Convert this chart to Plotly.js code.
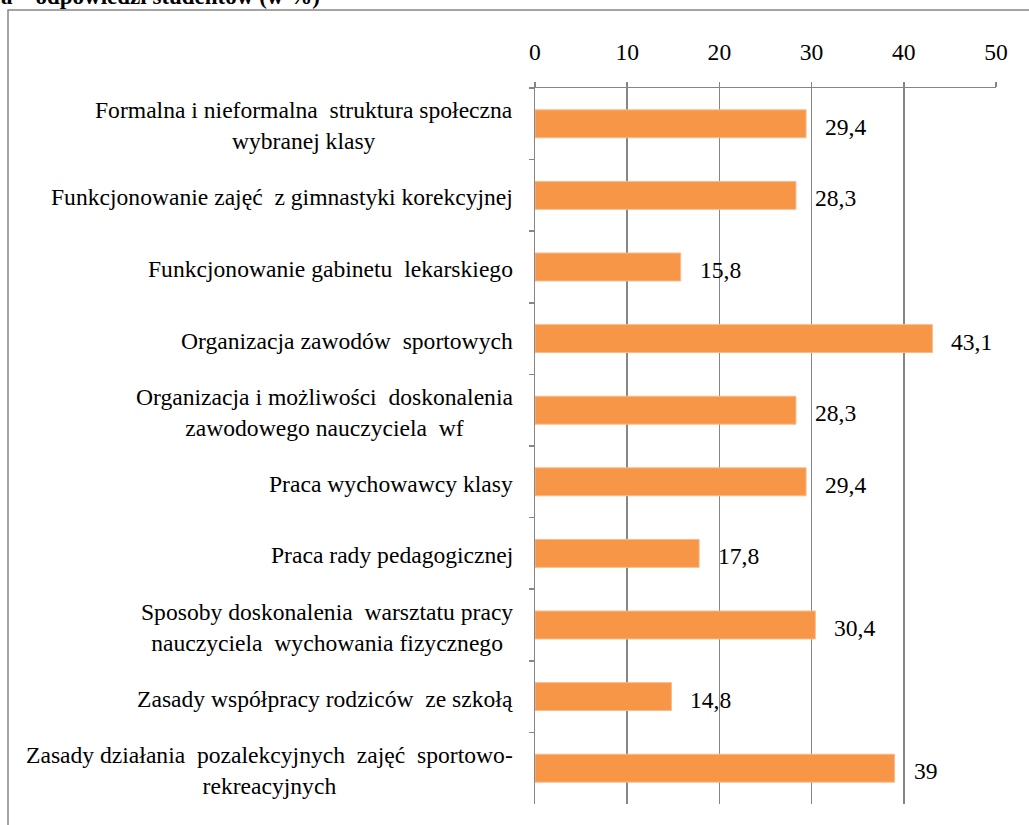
<!DOCTYPE html>
<html>
<head>
<meta charset="utf-8">
<script src="https://cdn.plot.ly/plotly-3.0.1.min.js"></script>
<style>
  html, body { margin: 0; padding: 0; background: #ffffff; }
  #chart { width: 1029px; height: 825px; }
</style>
</head>
<body>
<div id="chart"></div>
<script>
// ---- data ----
const categories = [
  "Formalna i nieformalna  struktura społeczna<br>wybranej klasy",
  "Funkcjonowanie zajęć  z gimnastyki korekcyjnej",
  "Funkcjonowanie gabinetu  lekarskiego",
  "Organizacja zawodów  sportowych",
  "Organizacja i możliwości  doskonalenia<br>zawodowego nauczyciela  wf",
  "Praca wychowawcy klasy",
  "Praca rady pedagogicznej",
  "Sposoby doskonalenia  warsztatu pracy<br>nauczyciela  wychowania fizycznego",
  "Zasady współpracy rodziców  ze szkołą",
  "Zasady działania  pozalekcyjnych  zajęć  sportowo-<br>rekreacyjnych"
];
const values = [29.4, 28.3, 15.8, 43.1, 28.3, 29.4, 17.8, 30.4, 14.8, 39];
const xTicks = [0, 10, 20, 30, 40, 50];
const titleText = "a – odpowiedzi studentów (w %)";

// ---- layout geometry ----
const W = 1029, H = 825;
const M = { l: 535, r: 33, t: 88, b: 21 };
const pw = W - M.l - M.r, ph = H - M.t - M.b;
const px2x = p => (p - M.l) / pw;
const py2y = p => (H - M.b - p) / ph;

const serif = "Liberation Serif";
const gray = "#868686";
const fs = 23.6;

const trace = {
  type: "bar",
  orientation: "h",
  x: values,
  y: categories,
  marker: { color: "#F79646", line: { color: "#FAB98A", width: 1 } },
  hoverinfo: "none"
};

const annotations = [];
categories.forEach((c, i) => {
  annotations.push({
    xref: "paper", yref: "y", x: 0, y: c,
    xanchor: "right", yanchor: "middle", xshift: -20, yshift: -2,
    align: "center", showarrow: false, text: c,
    font: { family: serif, size: fs, color: "#000" }
  });
  annotations.push({
    xref: "x", yref: "y", x: values[i], y: c,
    xanchor: "left", yanchor: "middle", xshift: 17, yshift: -3,
    showarrow: false, text: String(values[i]).replace(".", ","),
    font: { family: serif, size: fs, color: "#000" }
  });
});
annotations.push({
  xref: "paper", yref: "paper", x: px2x(-1), y: py2y(-3),
  xanchor: "left", yanchor: "middle", showarrow: false,
  text: "<b>" + titleText + "</b>",
  font: { family: serif, size: 23, color: "#000" }
});

const layout = {
  width: W, height: H,
  margin: M,
  paper_bgcolor: "#fff", plot_bgcolor: "#fff",
  showlegend: false,
  bargap: 0.61,
  font: { family: serif, size: fs, color: "#000" },
  xaxis: {
    side: "top", range: [0, 50], tickvals: xTicks,
    ticktext: xTicks.map(String),
    showgrid: true, gridcolor: gray, gridwidth: 1.5,
    showline: true, linecolor: gray, linewidth: 1.5,
    ticks: "outside", ticklen: 5, tickcolor: gray, tickwidth: 1.5,
    ticklabelstandoff: 12,
    zeroline: false, fixedrange: true,
    tickfont: { family: serif, size: fs, color: "#000" }
  },
  yaxis: {
    type: "category", autorange: "reversed",
    showticklabels: false, tickson: "boundaries",
    ticks: "outside", ticklen: 5, tickcolor: gray, tickwidth: 1.5,
    showline: true, linecolor: gray, linewidth: 1.5,
    showgrid: false, zeroline: false, fixedrange: true
  },
  shapes: [{
    type: "rect", xref: "paper", yref: "paper",
    x0: px2x(8), x1: px2x(1040), y0: py2y(840), y1: py2y(10),
    line: { color: gray, width: 1.5 }, fillcolor: "rgba(0,0,0,0)", layer: "below"
  }],
  annotations: annotations
};

Plotly.newPlot("chart", [trace], layout, { displayModeBar: false, staticPlot: true });
</script>
</body>
</html>
